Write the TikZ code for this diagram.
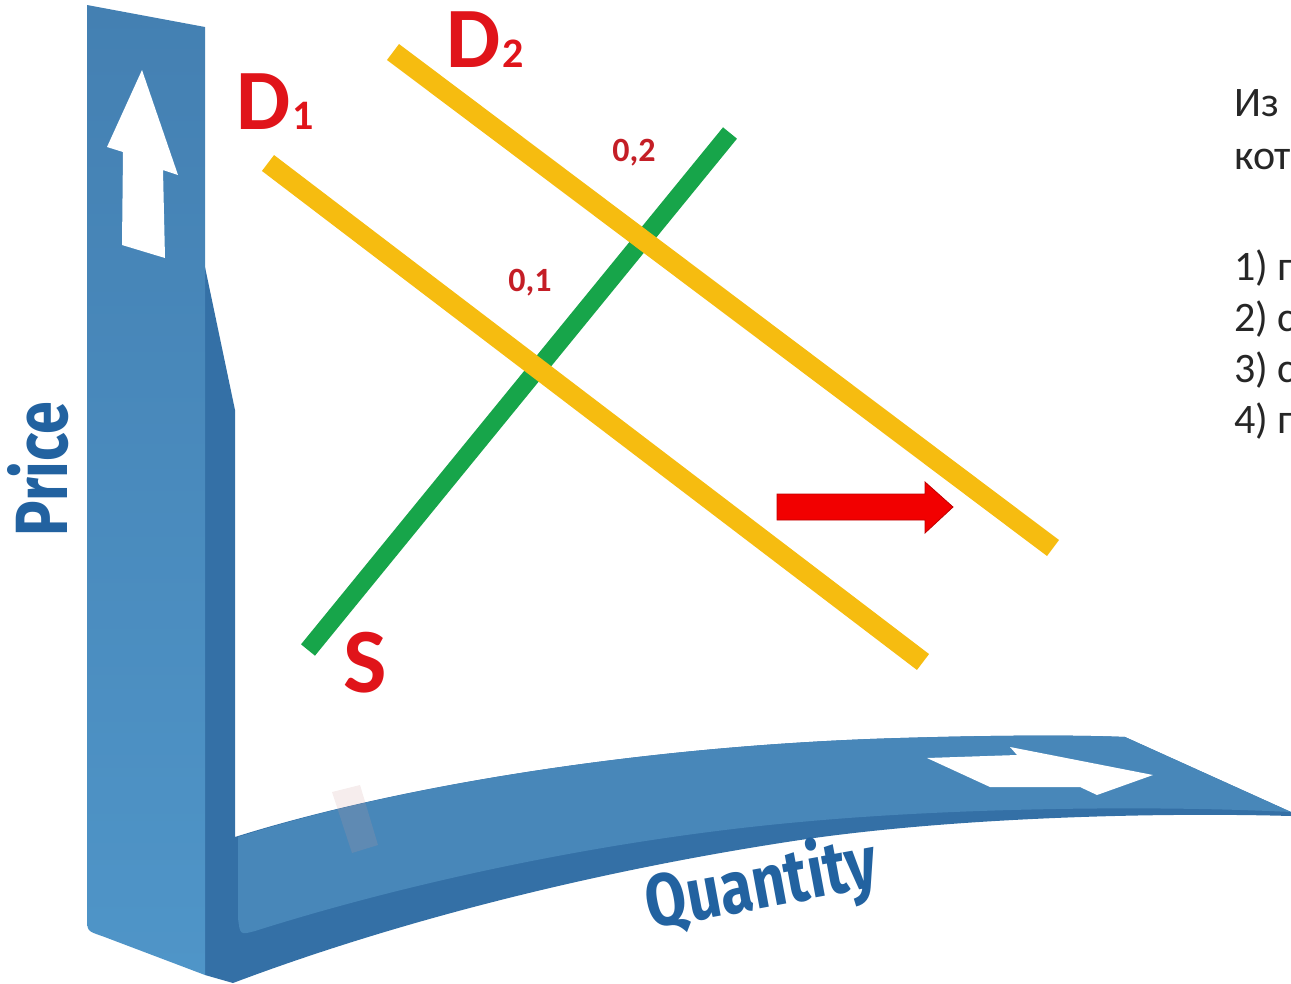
\documentclass[tikz,border=0pt]{standalone}
\usepackage{fontspec}
\setmainfont{Carlito}
\newfontfamily\axisfont{Fira Sans}[FakeStretch=0.8]
\definecolor{facetop}{HTML}{4480B2}
\definecolor{facebot}{HTML}{4F95C8}
\definecolor{ribface}{HTML}{4887B9}
\definecolor{darkband}{HTML}{3470A6}
\definecolor{axistxt}{HTML}{2262A0}
\definecolor{dyel}{HTML}{F6BC10}
\definecolor{sgreen}{HTML}{17A54A}
\definecolor{lblred}{HTML}{E0141A}
\definecolor{numred}{HTML}{C41E26}
\definecolor{arrowred}{HTML}{F20000}
\tikzset{
  dline/.style={dyel, line width=20pt},
  sline/.style={sgreen, line width=18pt},
  dlabel/.style={text=lblred, font=\fontsize{86}{86}\selectfont\bfseries, inner sep=0pt, anchor=base west},
  dsub/.style={text=lblred, font=\fontsize{42}{42}\selectfont\bfseries, inner sep=0pt, anchor=base west},
  numlabel/.style={text=numred, font=\fontsize{34}{34}\selectfont\bfseries, inner sep=0pt},
  axislabel/.style={text=axistxt, font=\axisfont\fontsize{74}{74}\selectfont\bfseries, inner sep=0pt},
  qtext/.style={text=black!85, font=\fontsize{42}{42}\selectfont, inner sep=0pt, anchor=base west},
  whitearrow/.style={fill=white}
}
\begin{document}
\begin{tikzpicture}[x=1pt,y=-1pt]
\useasboundingbox (0,0) rectangle (1291,983);
\clip (0,0) rectangle (1291,983);
% dark inner strip and underside band
\fill[darkband] (205,267) -- (235,410) -- (235,837)
  .. controls (400,785) and (650,745) .. (900,738)
  .. controls (1000,735) and (1080,735) .. (1125,737)
  -- (1291,812) -- (1291,816)
  .. controls (1150,812) and (950,818) .. (800,840)
  .. controls (600,870) and (400,920) .. (233,983)
  -- (205,975) -- cycle;
% ribbon top face
\fill[ribface] (238,837)
  .. controls (400,785) and (650,745) .. (900,738)
  .. controls (1000,735) and (1080,735) .. (1125,737)
  -- (1291,812)
  .. controls (1150,805) and (950,808) .. (800,822)
  .. controls (600,840) and (400,885) .. (255,931)
  .. controls (240,935) .. (238,918) -- cycle;
% faint stripe on ribbon
\fill[black!50!red!40, opacity=0.18] (332,792) -- (360,785) -- (378,845) -- (352,853) -- cycle;
% vertical bar front face
\shade[top color=facetop, bottom color=facebot] (87,5) -- (205,27) -- (205,975) -- (102,936) .. controls (87,931) .. (87,916) -- cycle;
% white arrows
\fill[whitearrow] (142,70) -- (178,175) -- (163,170) -- (165,258) -- (122,245) -- (123,152) -- (107,147) -- cycle;
\fill[whitearrow] (927,758) -- (1017,755) -- (1010,747) -- (1153,775) -- (1097,795) -- (1080,787) -- (990,787) -- cycle;
% axis labels
\node[axislabel, rotate=90] (price) at (38,469) {Price};
\node[axislabel, rotate=10.5] (qty) at (762,886) {Quantity};
% supply and demand lines
\draw[sline] (308,650) -- (730,133);
\draw[dline] (268,163) -- (923,662);
\draw[dline] (393,52) -- (1053,548);
% shift arrow
\fill[arrowred, draw=red!75!black, line width=0.8pt] (777,494) -- (925,494) -- (925,482) -- (953,507) -- (925,533) -- (925,520) -- (777,520) -- cycle;
% labels
\node[dlabel] (d1) at (236,129) {D};
\node[dsub] (d1s) at (292,129) {1};
\node[dlabel] (d2) at (446,67) {D};
\node[dsub] (d2s) at (502,67) {2};
\node[dlabel, font=\fontsize{92}{92}\selectfont\bfseries] (s) at (343,692) {S};
\node[numlabel] (n1) at (530,283) {0,1};
\node[numlabel] (n2) at (634,153) {0,2};
% question text (cut off at the right edge)
\node[qtext] (t1) at (1234,116) {Из};
\node[qtext] (t2) at (1234,169) {кот};
\node[qtext] (t3) at (1234,280) {1) п};
\node[qtext] (t4) at (1234,331) {2) с};
\node[qtext] (t5) at (1234,382) {3) с};
\node[qtext] (t6) at (1234,433) {4) п};
\end{tikzpicture}
\end{document}
